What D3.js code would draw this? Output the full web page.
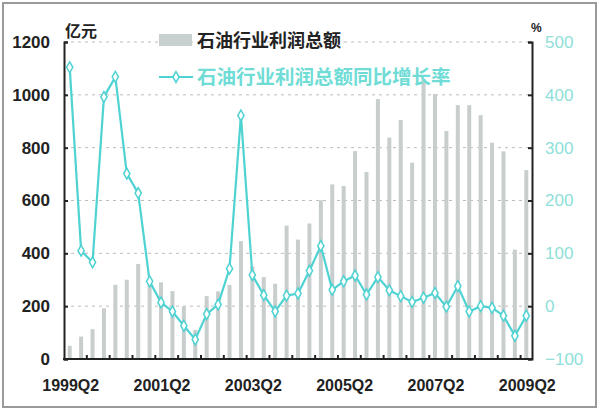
<!DOCTYPE html>
<html>
<head>
<meta charset="utf-8">
<script src="https://d3js.org/d3.v7.min.js"></script>
<style>
  body { margin: 0; background: #fff; }
  svg text { font-family: "Liberation Sans", Arial, sans-serif; }
  .cjk { font-family: "Noto Sans CJK SC", "Noto Sans", sans-serif; }
</style>
</head>
<body>
<script>
  // quarters, 1999Q2 .. 2009Q2
  var quarters = ["1999Q2","1999Q3","1999Q4","2000Q1","2000Q2","2000Q3","2000Q4",
                  "2001Q1","2001Q2","2001Q3","2001Q4","2002Q1","2002Q2","2002Q3","2002Q4",
                  "2003Q1","2003Q2","2003Q3","2003Q4","2004Q1","2004Q2","2004Q3","2004Q4",
                  "2005Q1","2005Q2","2005Q3","2005Q4","2006Q1","2006Q2","2006Q3","2006Q4",
                  "2007Q1","2007Q2","2007Q3","2007Q4","2008Q1","2008Q2","2008Q3","2008Q4",
                  "2009Q1","2009Q2"];

  // 石油行业利润总额 (亿元)
  var profit = [50, 85, 113, 192, 281, 300, 360, 290, 290, 257, 199, 110, 238, 256, 280,
                446, 350, 310, 285, 505, 452, 513, 601, 661, 655, 787, 708, 984, 838, 905,
                743, 1060, 1003, 863, 961, 961, 923, 819, 786, 414, 715];

  // 同比增长率 (%)
  var growth = [452, 105, 83, 396, 434, 251, 214, 47, 7, -10, -37, -63, -15, 3, 71,
                361, 59, 21, -10, 20, 24, 67, 114, 31, 47, 58, 22, 55, 30, 19,
                8, 16, 25, -1, 38, -10, 0, -3, -18, -56, -18];

  var xLabels = ["1999Q2","2001Q2","2003Q2","2005Q2","2007Q2","2009Q2"];
  var leftTicks = [0, 200, 400, 600, 800, 1000, 1200];
  var rightTicks = [-100, 0, 100, 200, 300, 400, 500];

  var W = 600, H = 414;
  var cyan = "#4fd2d2";

  var svg = d3.select("body").append("svg")
      .attr("width", W)
      .attr("height", H);

  // outer frame
  svg.append("rect")
      .attr("x", 3).attr("y", 3)
      .attr("width", 593).attr("height", 404)
      .attr("fill", "none")
      .attr("stroke", "#9a9a9a")
      .attr("stroke-width", 2);

  var x = d3.scaleBand().domain(quarters).range([64, 532]).padding(0);
  var yL = d3.scaleLinear().domain([0, 1200]).range([359, 42]);
  var yR = d3.scaleLinear().domain([-100, 500]).range([359, 42]);
  var bw = x.bandwidth();

  // dashed grid
  svg.append("g").selectAll("line")
      .data(leftTicks.slice(1))
      .enter().append("line")
      .attr("x1", 64).attr("x2", 532)
      .attr("y1", function (d) { return yL(d); })
      .attr("y2", function (d) { return yL(d); })
      .attr("stroke", "#bdbdbd")
      .attr("stroke-dasharray", "3,4");

  // bars
  svg.append("g").selectAll("rect")
      .data(profit)
      .enter().append("rect")
      .attr("x", function (d, i) { return x(quarters[i]) + bw / 2 - 2; })
      .attr("y", function (d) { return yL(d); })
      .attr("width", 4)
      .attr("height", function (d) { return yL(0) - yL(d); })
      .attr("fill", "#c8cecd");

  // left axis
  var axL = svg.append("g")
      .attr("transform", "translate(64,0)")
      .call(d3.axisLeft(yL).tickValues(leftTicks).tickFormat(d3.format("d"))
              .tickSize(-4).tickPadding(14));
  axL.selectAll("text")
      .style("font-size", "17px").style("font-weight", "bold").attr("fill", "#222");

  // right axis
  var axR = svg.append("g")
      .attr("transform", "translate(532,0)")
      .call(d3.axisRight(yR).tickValues(rightTicks).tickFormat(d3.format("d"))
              .tickSize(-4).tickPadding(13));
  axR.selectAll("text")
      .style("font-size", "17px").attr("fill", "#8fe0da");

  [axL, axR].forEach(function (a) {
    a.select(".domain").attr("stroke", "#222").attr("stroke-width", 2);
    a.selectAll(".tick line").attr("stroke", "#222").attr("stroke-width", 2);
  });

  // bottom axis: line, ticks every 2 quarters, labels every 8
  var axB = svg.append("g");
  axB.append("line")
      .attr("x1", 63).attr("x2", 533)
      .attr("y1", 359).attr("y2", 359)
      .attr("stroke", "#222").attr("stroke-width", 2);
  axB.selectAll("line.tk")
      .data(quarters.filter(function (q, i) { return i % 2 === 0 && i > 0; }))
      .enter().append("line")
      .attr("class", "tk")
      .attr("x1", function (d) { return x(d); })
      .attr("x2", function (d) { return x(d); })
      .attr("y1", 359).attr("y2", 355)
      .attr("stroke", "#222").attr("stroke-width", 2);
  axB.selectAll("text")
      .data(xLabels)
      .enter().append("text")
      .attr("x", function (d) { return x(d) + bw / 2 + 1; })
      .attr("y", 391)
      .attr("text-anchor", "middle")
      .style("font-size", "16px").style("font-weight", "bold")
      .attr("fill", "#222")
      .text(function (d) { return d; });

  // growth line
  var line = d3.line()
      .x(function (d, i) { return x(quarters[i]) + bw / 2; })
      .y(function (d) { return yR(d); });

  svg.append("path")
      .datum(growth)
      .attr("d", line)
      .attr("fill", "none")
      .attr("stroke", cyan)
      .attr("stroke-width", 2.2);

  var diamond = d3.symbol().type(d3.symbolDiamond).size(34);

  svg.append("g").selectAll("path")
      .data(growth)
      .enter().append("path")
      .attr("d", diamond)
      .attr("transform", function (d, i) {
        return "translate(" + (x(quarters[i]) + bw / 2) + "," + yR(d) + ")";
      })
      .attr("fill", "#fff")
      .attr("stroke", cyan)
      .attr("stroke-width", 1.5);

  // unit labels
  svg.append("text").attr("class", "cjk")
      .attr("x", 65).attr("y", 37)
      .style("font-size", "16px").style("font-weight", "bold")
      .attr("fill", "#222")
      .text("亿元");
  svg.append("text")
      .attr("x", 531).attr("y", 32)
      .style("font-size", "12px").style("font-weight", "bold")
      .attr("fill", "#222")
      .text("%");

  // legend
  svg.append("rect")
      .attr("x", 159).attr("y", 34)
      .attr("width", 33).attr("height", 12)
      .attr("fill", "#c8d0d0");
  svg.append("text").attr("class", "cjk")
      .attr("x", 197).attr("y", 47)
      .style("font-size", "18px").style("font-weight", "bold")
      .attr("fill", "#222")
      .text("石油行业利润总额");

  svg.append("line")
      .attr("x1", 159).attr("x2", 193)
      .attr("y1", 77).attr("y2", 77)
      .attr("stroke", cyan).attr("stroke-width", 2.2);
  svg.append("path")
      .attr("d", diamond)
      .attr("transform", "translate(176,77)")
      .attr("fill", "#fff")
      .attr("stroke", cyan)
      .attr("stroke-width", 1.5);
  svg.append("text").attr("class", "cjk")
      .attr("x", 197).attr("y", 84)
      .style("font-size", "19.5px").style("font-weight", "bold")
      .attr("fill", "#6fdcd6")
      .text("石油行业利润总额同比增长率");
</script>
</body>
</html>
